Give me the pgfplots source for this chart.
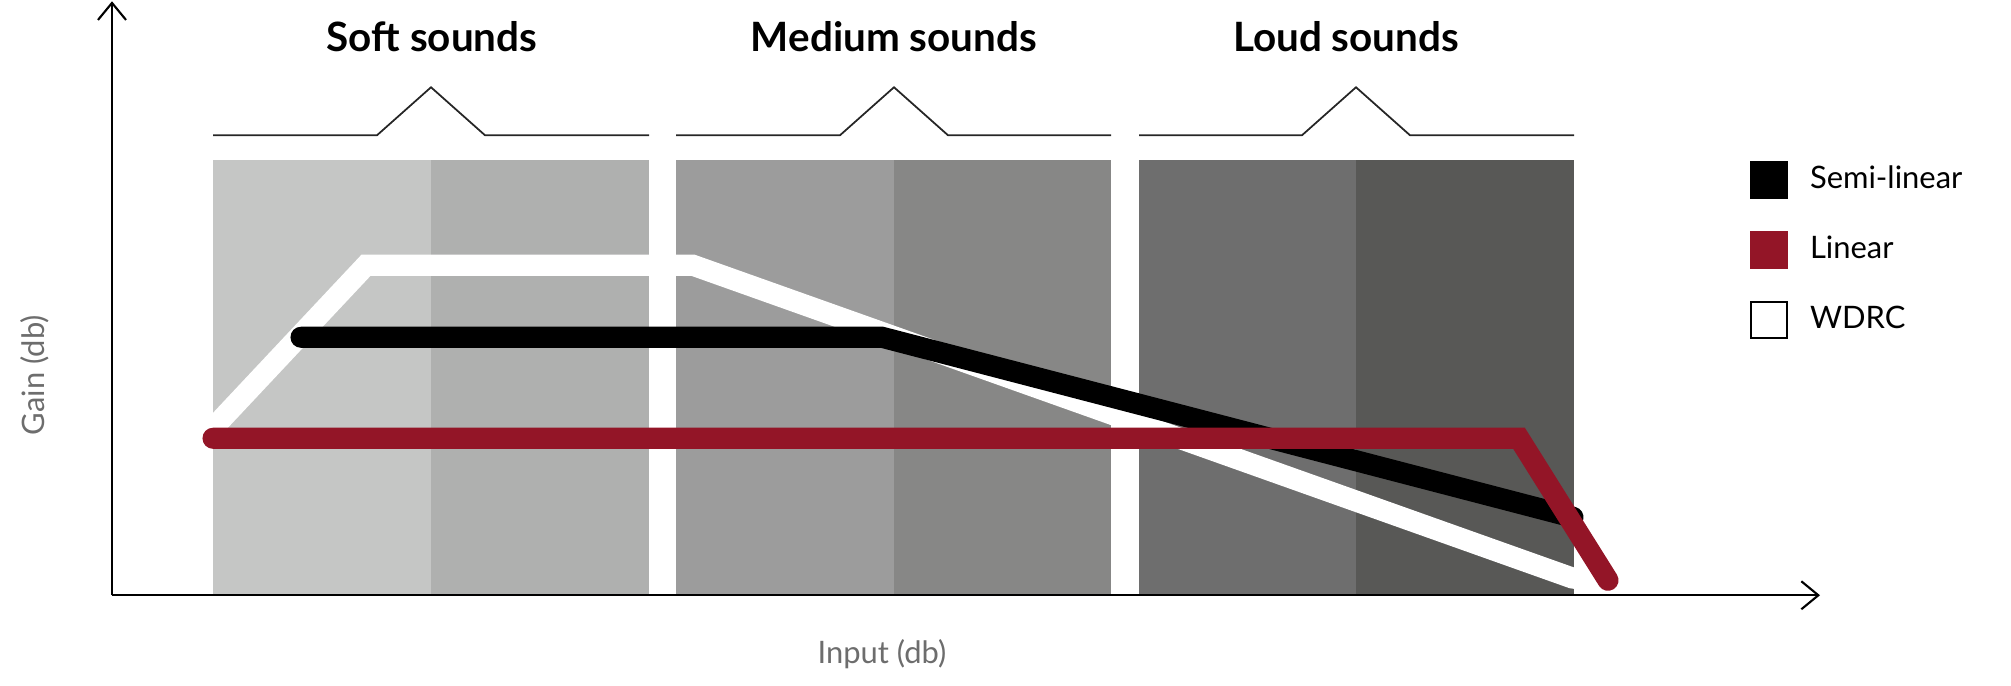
\documentclass[border=0pt]{standalone}
\usepackage{fontspec}
\setmainfont{Lato}
\usepackage{pgfplots}
\pgfplotsset{compat=1.18}
\usetikzlibrary{arrows.meta}

\definecolor{softA}{HTML}{C5C6C5}
\definecolor{softB}{HTML}{AFB0AF}
\definecolor{medA}{HTML}{9C9C9C}
\definecolor{medB}{HTML}{878786}
\definecolor{loudA}{HTML}{6E6E6E}
\definecolor{loudB}{HTML}{585856}
\definecolor{wred}{HTML}{931527}
\definecolor{labelgray}{HTML}{6D6D6D}

\begin{document}
\begin{tikzpicture}
\begin{axis}[
    scale only axis,
    width=20.11cm, height=6.85cm,
    xmin=-112, xmax=1899, ymin=-90, ymax=595,
    hide axis, clip=false,
    legend image code/.code={\draw[#1] (0cm,-0.18cm) rectangle (0.36cm,0.18cm);},
    legend style={draw=none, fill=none, at={(axis cs:1627,444)}, anchor=north west,
        font=\fontsize{8.8}{10}\selectfont, row sep=0.28cm,
        /tikz/every odd column/.append style={column sep=0.15cm}},
    legend cell align=left,
]
% invisible frame, keeps the page at the full picture size
\addplot[draw=none, forget plot] coordinates {(-112,-90) (1899,595)};

% loudness bands
\addplot[fill=softA, draw=none, forget plot] coordinates {(101,0) (319,0) (319,435) (101,435)} -- cycle;
\addplot[fill=softB, draw=none, forget plot] coordinates {(319,0) (537,0) (537,435) (319,435)} -- cycle;
\addplot[fill=medA, draw=none, forget plot] coordinates {(564,0) (782,0) (782,435) (564,435)} -- cycle;
\addplot[fill=medB, draw=none, forget plot] coordinates {(782,0) (999,0) (999,435) (782,435)} -- cycle;
\addplot[fill=loudA, draw=none, forget plot] coordinates {(1027,0) (1244,0) (1244,435) (1027,435)} -- cycle;
\addplot[fill=loudB, draw=none, forget plot] coordinates {(1244,0) (1462,0) (1462,435) (1244,435)} -- cycle;

% brackets over the bands
\addplot[black!85, line width=0.5pt, forget plot] coordinates {(101,460) (265,460) (319,508) (373,460) (537,460)};
\addplot[black!85, line width=0.5pt, forget plot] coordinates {(564,460) (728,460) (782,508) (836,460) (999,460)};
\addplot[black!85, line width=0.5pt, forget plot] coordinates {(1027,460) (1190,460) (1244,508) (1298,460) (1462,460)};

% axes
\addplot[black, line width=0.6pt, -{Straight Barb[length=1.7mm, width=2.8mm, line width=0.6pt]}, forget plot]
    coordinates {(0,0) (0,594)};
\addplot[black, line width=0.6pt, -{Straight Barb[length=1.7mm, width=2.8mm, line width=0.6pt]}, forget plot]
    coordinates {(0,0) (1708,0)};

% gain curves
\addplot[white, line width=6pt, line cap=round, line join=miter, forget plot]
    coordinates {(101,167) (254,330) (581,330) (1461,17)};
\addplot[black, line width=6pt, line cap=round, line join=miter, forget plot]
    coordinates {(189,258) (770,258) (1461,78)};
\addplot[wred, line width=6pt, line cap=round, line join=miter, forget plot]
    coordinates {(101,157) (1407,157) (1496,15)};

\addlegendimage{fill=black, draw=black}
\addlegendentry{Semi-linear}
\addlegendimage{fill=wred, draw=wred}
\addlegendentry{Linear}
\addlegendimage{fill=white, draw=black, line width=0.5pt}
\addlegendentry{WDRC}

\node[font=\fontsize{11.5}{13}\selectfont\bfseries] at (axis cs:320,559) {Soft sounds};
\node[font=\fontsize{11.5}{13}\selectfont\bfseries] at (axis cs:782,559) {Medium sounds};
\node[font=\fontsize{11.5}{13}\selectfont\bfseries] at (axis cs:1234,559) {Loud sounds};

\node[rotate=90, text=labelgray, font=\fontsize{8.8}{10}\selectfont] at (axis cs:-77,220) {Gain (db)};
\node[text=labelgray, font=\fontsize{8.8}{10}\selectfont] at (axis cs:770,-59) {Input (db)};
\end{axis}
\end{tikzpicture}
\end{document}
